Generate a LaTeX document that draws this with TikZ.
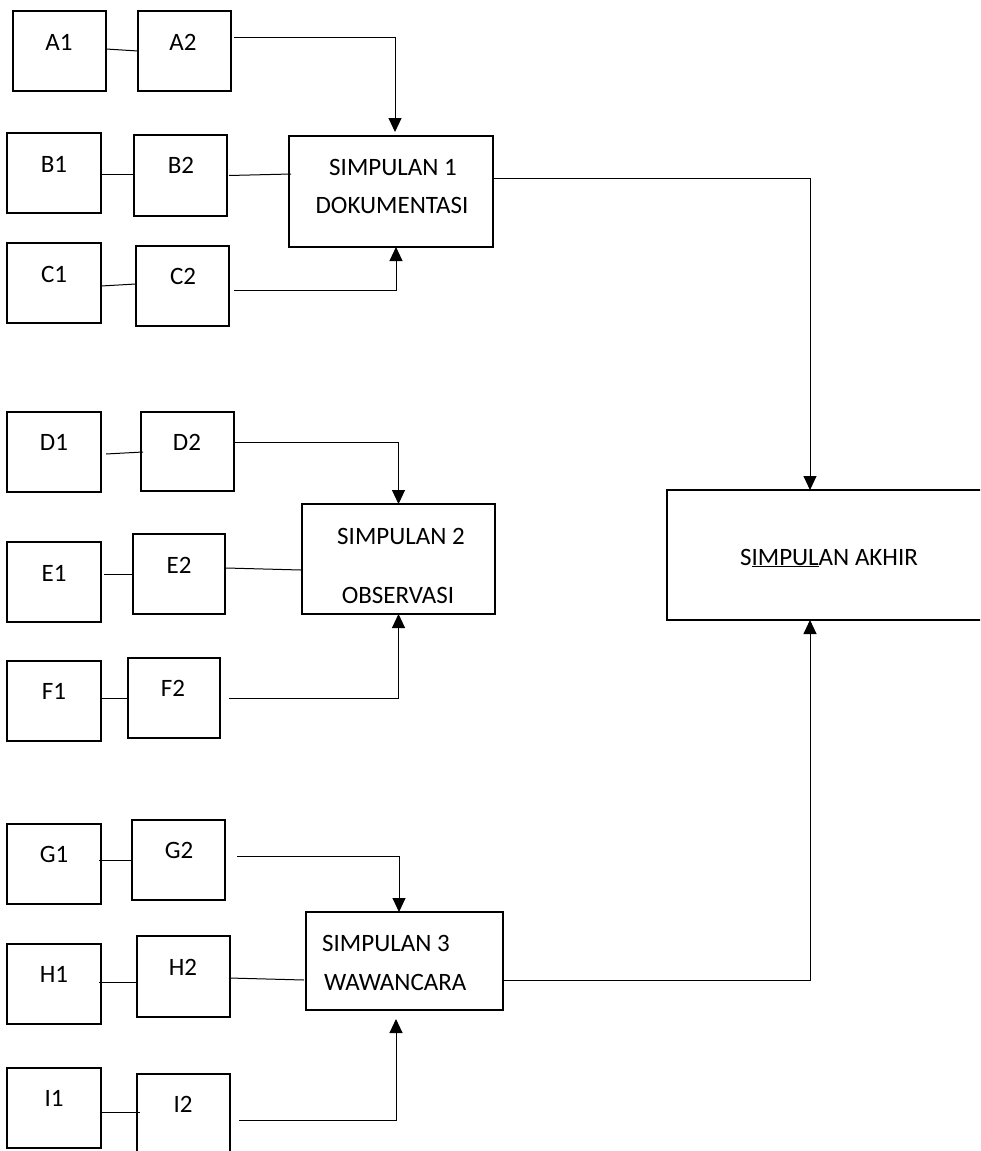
\documentclass[tikz,border=0pt]{standalone}
\usepackage{fontspec}
\setmainfont{Carlito}
\usetikzlibrary{arrows.meta}
\begin{document}
\begin{tikzpicture}[x=1pt,y=-1pt,
  smallbox/.style={draw,line width=1.5pt,minimum width=93pt,minimum height=80pt,inner sep=0pt,outer sep=0pt},
  bigbox/.style={draw,line width=2.6pt,inner sep=0pt,outer sep=0pt},
  lbl/.style={font=\fontsize{25}{30}\selectfont,inner sep=0pt,anchor=center},
  conn/.style={line width=1pt},
  arr/.style={line width=1pt,-{Triangle[length=14pt,width=13pt]}}]
\clip (0,0) rectangle (980,1151);
\fill[white] (0,0) rectangle (980,1151);
% big boxes
\node[bigbox,minimum width=204pt,minimum height=111pt] (S1) at (391,191.5) {};
\node[bigbox,minimum width=193pt,minimum height=110pt] (S2) at (398.5,559) {};
\node[bigbox,minimum width=197pt,minimum height=98pt] (S3) at (404.5,961) {};
\node[bigbox,minimum width=330pt,minimum height=130pt] (SA) at (832,555) {};
\node[lbl] (S1a) at (393,167) {SIMPULAN 1};
\node[lbl] (S1b) at (392,205) {DOKUMENTASI};
\node[lbl] (S2a) at (401,536) {SIMPULAN 2};
\node[lbl] (S2b) at (398,595) {OBSERVASI};
\node[lbl,anchor=west] (S3a) at (322,943) {SIMPULAN 3};
\node[lbl,anchor=west] (S3b) at (324,982) {WAWANCARA};
\node[lbl] (SAt) at (829,558) {S\underline{IMPUL}AN AKHIR};
% small boxes
\node[smallbox] (A1) at (59.5,51) {};
\node[smallbox] (A2) at (184.5,51) {};
\node[smallbox,minimum width=94pt] (B1) at (54,173) {};
\node[smallbox,minimum height=81pt] (B2) at (180.5,175.5) {};
\node[smallbox,minimum width=94pt] (C1) at (54,283) {};
\node[smallbox] (C2) at (182.5,286) {};
\node[smallbox,minimum width=94pt] (D1) at (54,452) {};
\node[smallbox,minimum height=79pt] (D2) at (187.5,451.5) {};
\node[smallbox,minimum width=94pt] (E1) at (54,582) {};
\node[smallbox,minimum width=92pt] (E2) at (179,574) {};
\node[smallbox,minimum width=94pt] (F1) at (54,701) {};
\node[smallbox,minimum width=92pt] (F2) at (174,698) {};
\node[smallbox,minimum width=94pt] (G1) at (54,864) {};
\node[smallbox] (G2) at (178.5,860) {};
\node[smallbox,minimum width=94pt] (H1) at (54,984) {};
\node[smallbox,minimum height=81pt] (H2) at (183.5,976.5) {};
\node[smallbox,minimum width=94pt] (I1) at (54,1108) {};
\node[smallbox] (I2) at (183.5,1114) {};
% labels
\node[lbl] (A1t) at (59,42) {A1};
\node[lbl] (A2t) at (183,42) {A2};
\node[lbl] (B1t) at (54,164) {B1};
\node[lbl] (B2t) at (181,165) {B2};
\node[lbl] (C1t) at (54,274) {C1};
\node[lbl] (C2t) at (183,276) {C2};
\node[lbl] (D1t) at (54,442) {D1};
\node[lbl] (D2t) at (187,442) {D2};
\node[lbl] (E1t) at (54,573) {E1};
\node[lbl] (E2t) at (179,565) {E2};
\node[lbl] (F1t) at (54,691) {F1};
\node[lbl] (F2t) at (173,688) {F2};
\node[lbl] (G1t) at (54,854) {G1};
\node[lbl] (G2t) at (179,850) {G2};
\node[lbl] (H1t) at (54,974) {H1};
\node[lbl] (H2t) at (183,967) {H2};
\node[lbl] (I1t) at (54,1098) {I1};
\node[lbl] (I2t) at (183,1104) {I2};
% pair connectors
\draw[conn] ([yshift=2pt]A1.east) -- (A2.west);
\draw[conn] ([xshift=-1pt,yshift=-1pt]B1.east) -- ([yshift=1.5pt]B2.west);
\draw[conn] ([yshift=-3pt]C1.east) -- ([yshift=2pt]C2.west);
\draw[conn] ([xshift=5pt,yshift=-2pt]D1.east) -- ([xshift=2pt,yshift=-0.5pt]D2.west);
\draw[conn] ([xshift=3pt,yshift=8pt]E1.east) -- (E2.west);
\draw[conn] ([yshift=3pt]F1.east) -- (F2.west);
\draw[conn] ([xshift=-2pt,yshift=4pt]G1.east) -- (G2.west);
\draw[conn] ([xshift=-2pt,yshift=2pt]H1.east) -- ([yshift=-5.5pt]H2.west);
\draw[conn] ([yshift=-4pt]I1.east) -- ([xshift=3pt,yshift=2pt]I2.west);
% into S1
\draw[arr] ([xshift=3pt,yshift=14pt]A2.east) -| ([xshift=4pt,yshift=4pt]S1.north);
\draw[conn] ([xshift=2pt]B2.east) -- ([xshift=2pt,yshift=17.5pt]S1.west);
\draw[arr] ([xshift=5pt,yshift=-4pt]C2.east) -| ([xshift=5pt]S1.south);
% into S2
\draw[arr] ([xshift=1pt,yshift=9.5pt]D2.east) -| (S2.north);
\draw[conn] ([xshift=1pt,yshift=6pt]E2.east) -- ([xshift=-1pt,yshift=-11pt]S2.west);
\draw[arr] ([xshift=9pt]F2.east) -| (S2.south);
% into S3
\draw[arr] ([xshift=12pt,yshift=4pt]G2.east) -| ([xshift=-5.5pt]S3.north);
\draw[conn] ([xshift=-1pt,yshift=-1.5pt]H2.east) -- ([xshift=-2pt,yshift=-19pt]S3.west);
\draw[arr] ([xshift=9pt,yshift=-6pt]I2.east) -| ([xshift=-8.5pt,yshift=-9pt]S3.south);
% into SA
\draw[arr] ([yshift=13.5pt]S1.east) -| ([xshift=-22pt]SA.north);
\draw[arr] ([yshift=-19pt]S3.east) -| ([xshift=-22pt]SA.south);
\end{tikzpicture}
\end{document}
